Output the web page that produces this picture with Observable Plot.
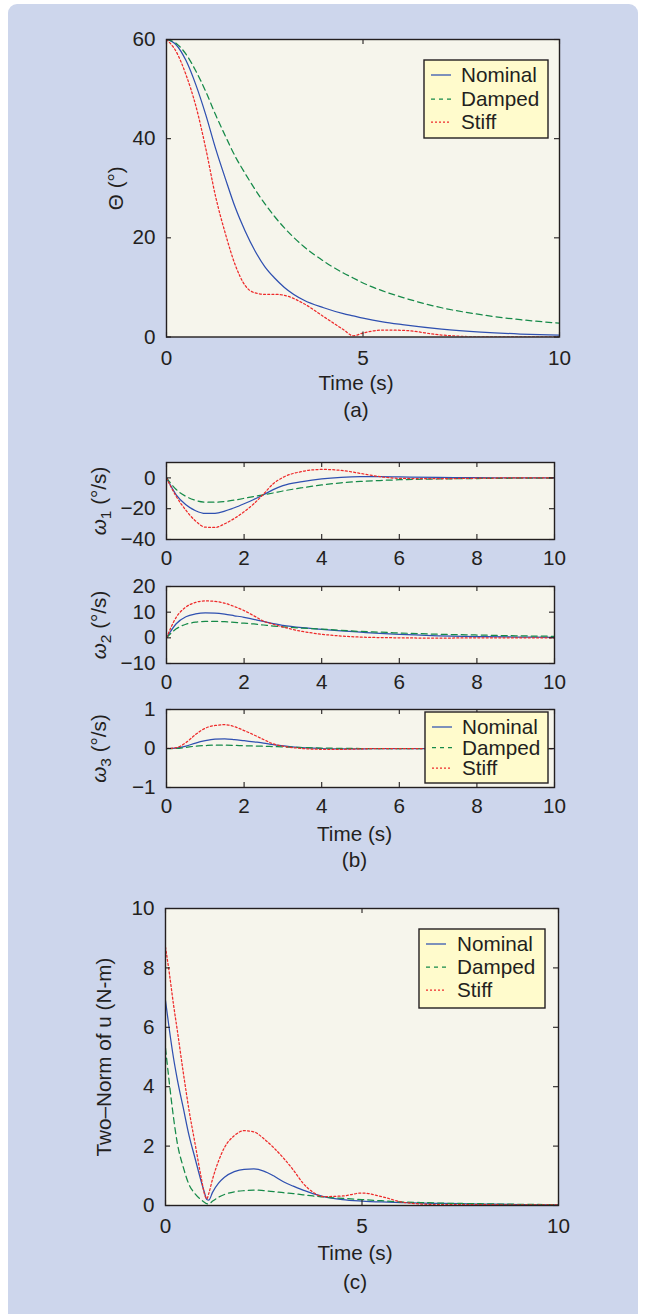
<!DOCTYPE html>
<html>
<head>
<meta charset="utf-8">
<script src="https://cdn.jsdelivr.net/npm/d3@7"></script>
<script src="https://cdn.jsdelivr.net/npm/@observablehq/plot@0.6"></script>
<style>
  body { margin: 0; background: #ffffff; font-family: "Liberation Sans", Arial, sans-serif; }
  #page { position: relative; width: 647px; height: 1314px; overflow: hidden; }
  #panel { position: absolute; left: 8px; top: 4px; width: 630px; height: 1340px; border-radius: 9px; background: #cdd6ec; }
  #page svg { position: absolute; left: 0; overflow: visible; }
</style>
</head>
<body>
<div id="page"><div id="panel"></div></div>
<script>
// ---- series names ----
const seriesNames = ["Nominal", "Damped", "Stiff"];

// ---- (a) attitude error angle Θ (deg) ----
const timeA = [0, 0.25, 0.5, 0.75, 1, 1.25, 1.5, 1.75, 2, 2.25, 2.5, 2.75, 3, 3.5, 4, 4.5, 4.75, 5, 5.5, 6, 7, 8, 9, 10];
const thetaNominal = [60, 58.9, 55.7, 50.8, 44.8, 38.0, 31.9, 26.1, 21.4, 17.4, 14.2, 11.9, 10.0, 7.4, 5.9, 4.7, 4.25, 3.8, 3.05, 2.5, 1.6, 1.0, 0.6, 0.35];
const thetaDamped  = [60, 59.2, 57.0, 53.6, 49.5, 44.8, 40.5, 36.4, 33.0, 29.8, 26.9, 24.3, 22.0, 18.2, 15.3, 12.9, 11.9, 10.9, 9.3, 8.0, 5.9, 4.5, 3.5, 2.8];
const thetaStiff   = [60, 57.5, 52.8, 46.5, 38.0, 28.3, 20.8, 14.5, 10.4, 8.9, 8.6, 8.6, 8.4, 6.7, 4.1, 1.5, 0.25, 0.8, 1.4, 1.35, 0.4, 0.05, 0.1, 0.05];

// ---- (b) body rates ω1, ω2, ω3 (deg/s) ----
const timeB = [0, 0.25, 0.5, 0.75, 1, 1.25, 1.5, 1.75, 2, 2.25, 2.5, 2.75, 3, 3.5, 4, 4.5, 5, 5.5, 6, 7, 8, 9, 10];
const w1Nominal = [0, -11, -17.5, -21.3, -23.1, -23.0, -21.6, -19.4, -16.8, -14.0, -10.9, -7.6, -5.0, -2.4, -0.6, 0.4, 0.8, 0.8, 0.6, 0.3, 0.15, 0.05, 0];
const w1Damped  = [0, -7.5, -12, -14.6, -15.7, -15.8, -15.3, -14.4, -13.3, -12.1, -11.0, -9.8, -8.5, -6.4, -4.6, -3.2, -2.3, -1.7, -1.2, -0.7, -0.4, -0.2, -0.1];
const w1Stiff   = [0, -12, -21, -28, -32, -32.2, -29.8, -26.3, -22.0, -16.8, -10.5, -3.8, 0.3, 4.2, 5.5, 4.9, 2.9, 0.8, -0.3, -0.5, -0.2, 0, 0];

const w2Nominal = [0, 5.5, 8.2, 9.3, 9.7, 9.6, 9.2, 8.6, 8.0, 7.2, 6.4, 5.5, 4.9, 4.0, 3.3, 2.7, 2.2, 1.7, 1.3, 0.8, 0.5, 0.3, 0.2];
const w2Damped  = [0, 3.5, 5.3, 6.1, 6.4, 6.4, 6.3, 6.0, 5.7, 5.4, 5.0, 4.6, 4.3, 3.8, 3.4, 2.9, 2.5, 2.2, 1.9, 1.4, 1.1, 0.8, 0.6];
const w2Stiff   = [0, 8, 12, 13.8, 14.4, 14.2, 13.5, 12.2, 10.6, 8.6, 6.5, 5.3, 4.2, 2.5, 1.4, 0.7, 0.3, 0.1, 0, -0.1, 0, 0, 0];

const w3Nominal = [0, 0.01, 0.06, 0.14, 0.2, 0.24, 0.25, 0.23, 0.2, 0.17, 0.14, 0.1, 0.07, 0.02, 0, -0.01, -0.01, 0, 0, 0, 0, 0, 0];
const w3Damped  = [0, 0, 0.03, 0.06, 0.075, 0.085, 0.085, 0.08, 0.07, 0.065, 0.06, 0.05, 0.04, 0.025, 0.01, 0.005, 0, 0, 0, 0, 0, 0, 0];
const w3Stiff   = [0, 0.02, 0.15, 0.36, 0.52, 0.59, 0.61, 0.56, 0.46, 0.35, 0.23, 0.12, 0.06, 0, -0.02, -0.02, -0.01, 0, 0, 0, 0, 0, 0];

// ---- (c) two-norm of control torque u (N-m) ----
const timeC = [0, 0.1, 0.2, 0.3, 0.45, 0.6, 0.75, 0.9, 1, 1.05, 1.1, 1.2, 1.35, 1.5, 1.75, 2, 2.25, 2.5, 2.75, 3, 3.25, 3.5, 3.75, 4, 4.5, 5, 5.5, 6, 6.5, 7, 8, 9, 10];
const uNominal = [6.9, 5.9, 5.0, 4.25, 3.3, 2.35, 1.6, 0.85, 0.4, 0.2, 0.18, 0.45, 0.75, 0.95, 1.14, 1.22, 1.23, 1.16, 1.0, 0.8, 0.65, 0.52, 0.4, 0.31, 0.2, 0.15, 0.12, 0.1, 0.08, 0.07, 0.05, 0.03, 0.02];
const uDamped  = [5.3, 4.1, 3.0, 2.1, 1.3, 0.7, 0.4, 0.2, 0.1, 0.06, 0.05, 0.15, 0.28, 0.37, 0.46, 0.5, 0.52, 0.5, 0.47, 0.43, 0.4, 0.36, 0.32, 0.29, 0.24, 0.2, 0.16, 0.12, 0.1, 0.08, 0.06, 0.04, 0.03];
const uStiff   = [8.7, 7.8, 6.8, 5.9, 4.5, 3.2, 2.1, 1.0, 0.35, 0.22, 0.4, 0.9, 1.5, 1.95, 2.35, 2.52, 2.48, 2.25, 1.95, 1.6, 1.2, 0.75, 0.45, 0.3, 0.32, 0.42, 0.3, 0.12, 0.05, 0.03, 0.03, 0.02, 0.02];

// ---- tick values ----
const ticksTime5 = [0, 5, 10];
const ticksTime2 = [0, 2, 4, 6, 8, 10];
const ticksTheta = [0, 20, 40, 60];
const ticksW1 = [-40, -20, 0];
const ticksW2 = [-10, 0, 10, 20];
const ticksW3 = [-1, 0, 1];
const ticksU = [0, 2, 4, 6, 8, 10];

// ---- styling ----
const INK = "#231f20";
const CREAM = "#f6f5ec";
const FONT = "Liberation Sans, Arial, sans-serif";
const FONT_SIZE = 20.7;
const TICK = 5;
const lineStyle = {
  Nominal: {stroke: "#2f50b0", dash: null},
  Damped:  {stroke: "#168a49", dash: "6,4"},
  Stiff:   {stroke: "#ee2a2a", dash: "2,2.2"}
};

const page = document.getElementById("page");
const W = 647;

function rows(time, values) {
  return time.map((t, i) => ({t, v: values[i]}));
}

function drawPanel(cfg) {
  const {top, height, frame, xTicks, yDomain, yTicks, series, yTitle, yTitleDx, xTickPad, captions} = cfg;
  const fw = frame.right - frame.left;
  const fh = frame.bottom - frame.top;
  const marks = [
    Plot.frame({fill: CREAM}),
    ...series.map(([name, data]) => Plot.line(data, {
      x: "t", y: "v", curve: "monotone-x", clip: true,
      stroke: lineStyle[name].stroke,
      strokeDasharray: lineStyle[name].dash,
      strokeWidth: 1.25
    })),
    // inward tick marks on all four sides
    Plot.tickY(yTicks, {y: d => d, insetRight: fw - TICK, stroke: INK, strokeWidth: 1.1}),
    Plot.tickY(yTicks, {y: d => d, insetLeft: fw - TICK, stroke: INK, strokeWidth: 1.1}),
    Plot.tickX(xTicks, {x: d => d, insetTop: fh - TICK, stroke: INK, strokeWidth: 1.1}),
    Plot.tickX(xTicks, {x: d => d, insetBottom: fh - TICK, stroke: INK, strokeWidth: 1.1}),
    Plot.frame({stroke: INK, strokeWidth: 1.4}),
    Plot.axisX(xTicks, {tickSize: 0, tickPadding: xTickPad, label: null}),
    Plot.axisY(yTicks, {tickSize: 0, tickPadding: 11, label: null}),
    Plot.text([yTitle.text], {
      text: d => d, frameAnchor: "left", dx: yTitleDx, rotate: -90,
      lineAnchor: "middle", textAnchor: "middle", fill: INK
    }),
    ...captions.map(c => Plot.text([c.text], {
      text: d => d, frameAnchor: "bottom", dx: c.dx, dy: c.dy,
      lineAnchor: "middle", textAnchor: "middle", fill: INK
    }))
  ];
  const svg = Plot.plot({
    width: W,
    height,
    marginLeft: frame.left,
    marginRight: W - frame.right,
    marginTop: frame.top - top,
    marginBottom: top + height - frame.bottom,
    x: {domain: [0, 10]},
    y: {domain: yDomain},
    style: {fontFamily: FONT, fontSize: FONT_SIZE + "px", color: INK, background: "transparent", overflow: "visible"},
    marks
  });
  svg.style.top = top + "px";
  // rate titles: italic ω with a numeric subscript
  if (yTitle.omega) {
    const t = d3.select(svg).selectAll("text")
      .filter(function () { return this.textContent === yTitle.text; });
    t.text(null);
    t.append("tspan").attr("font-style", "italic").text("ω");
    t.append("tspan").attr("font-size", "0.75em").attr("dy", "0.3em").text(yTitle.omega);
    t.append("tspan").attr("dy", "-0.25em").text(" (°/s)");
  }
  page.appendChild(svg);
}

// (a)
drawPanel({
  top: 0, height: 430,
  frame: {left: 166, right: 559, top: 39, bottom: 336.5},
  xTicks: ticksTime5, yDomain: [0, 60], yTicks: ticksTheta,
  series: [["Nominal", rows(timeA, thetaNominal)], ["Damped", rows(timeA, thetaDamped)], ["Stiff", rows(timeA, thetaStiff)]],
  yTitle: {text: "Θ (°)"}, yTitleDx: -50, xTickPad: 13,
  captions: [{text: "Time (s)", dx: -7, dy: 46.5}, {text: "(a)", dx: -7, dy: 73}]
});

// (b) three stacked rate panels
drawPanel({
  top: 440, height: 130,
  frame: {left: 166, right: 554, top: 462, bottom: 539},
  xTicks: ticksTime2, yDomain: [-40, 10], yTicks: ticksW1,
  series: [["Nominal", rows(timeB, w1Nominal)], ["Damped", rows(timeB, w1Damped)], ["Stiff", rows(timeB, w1Stiff)]],
  yTitle: {text: "ω1 (°/s)", omega: "1"}, yTitleDx: -67, xTickPad: 11,
  captions: []
});
drawPanel({
  top: 570, height: 110,
  frame: {left: 166, right: 554, top: 586, bottom: 663},
  xTicks: ticksTime2, yDomain: [-10, 20], yTicks: ticksW2,
  series: [["Nominal", rows(timeB, w2Nominal)], ["Damped", rows(timeB, w2Damped)], ["Stiff", rows(timeB, w2Stiff)]],
  yTitle: {text: "ω2 (°/s)", omega: "2"}, yTitleDx: -67, xTickPad: 11,
  captions: []
});
drawPanel({
  top: 690, height: 190,
  frame: {left: 166, right: 554, top: 709, bottom: 787},
  xTicks: ticksTime2, yDomain: [-1, 1], yTicks: ticksW3,
  series: [["Nominal", rows(timeB, w3Nominal)], ["Damped", rows(timeB, w3Damped)], ["Stiff", rows(timeB, w3Stiff)]],
  yTitle: {text: "ω3 (°/s)", omega: "3"}, yTitleDx: -67, xTickPad: 11,
  captions: [{text: "Time (s)", dx: -6, dy: 47}, {text: "(b)", dx: -6, dy: 73}]
});

// (c)
drawPanel({
  top: 890, height: 424,
  frame: {left: 165, right: 558, top: 908, bottom: 1205},
  xTicks: ticksTime5, yDomain: [0, 10], yTicks: ticksU,
  series: [["Nominal", rows(timeC, uNominal)], ["Damped", rows(timeC, uDamped)], ["Stiff", rows(timeC, uStiff)]],
  yTitle: {text: "Two–Norm of u (N-m)"}, yTitleDx: -61, xTickPad: 13,
  captions: [{text: "Time (s)", dx: -7, dy: 48}, {text: "(c)", dx: -7, dy: 77}]
});

// ---- legends drawn on top of the panels ----
const overlay = d3.create("svg")
  .attr("width", W).attr("height", 1314)
  .style("top", "0px").style("pointer-events", "none")
  .attr("font-family", FONT).attr("font-size", FONT_SIZE);

function legend(box, rowY, swatch, textX) {
  const g = overlay.append("g");
  g.append("rect").attr("x", box.x).attr("y", box.y).attr("width", box.w).attr("height", box.h)
    .attr("fill", "#fffbcc").attr("stroke", INK).attr("stroke-width", 1.4);
  seriesNames.forEach((name, i) => {
    g.append("line").attr("x1", swatch[0]).attr("x2", swatch[1]).attr("y1", rowY[i]).attr("y2", rowY[i])
      .attr("stroke", lineStyle[name].stroke).attr("stroke-width", 1.25)
      .attr("stroke-dasharray", name === "Damped" ? "4,4" : name === "Stiff" ? "2,2" : null);
    g.append("text").attr("x", textX).attr("y", rowY[i]).attr("dy", "0.36em").attr("fill", INK).text(name);
  });
}
legend({x: 424, y: 60, w: 124, h: 78}, [75, 99, 122], [431, 451], 461);
legend({x: 425, y: 712, w: 123, h: 71}, [727, 747.5, 768], [432, 452], 462);
legend({x: 419, y: 929, w: 126, h: 79}, [944, 967, 990], [426, 446], 457);
page.appendChild(overlay.node());
</script>
</body>
</html>
